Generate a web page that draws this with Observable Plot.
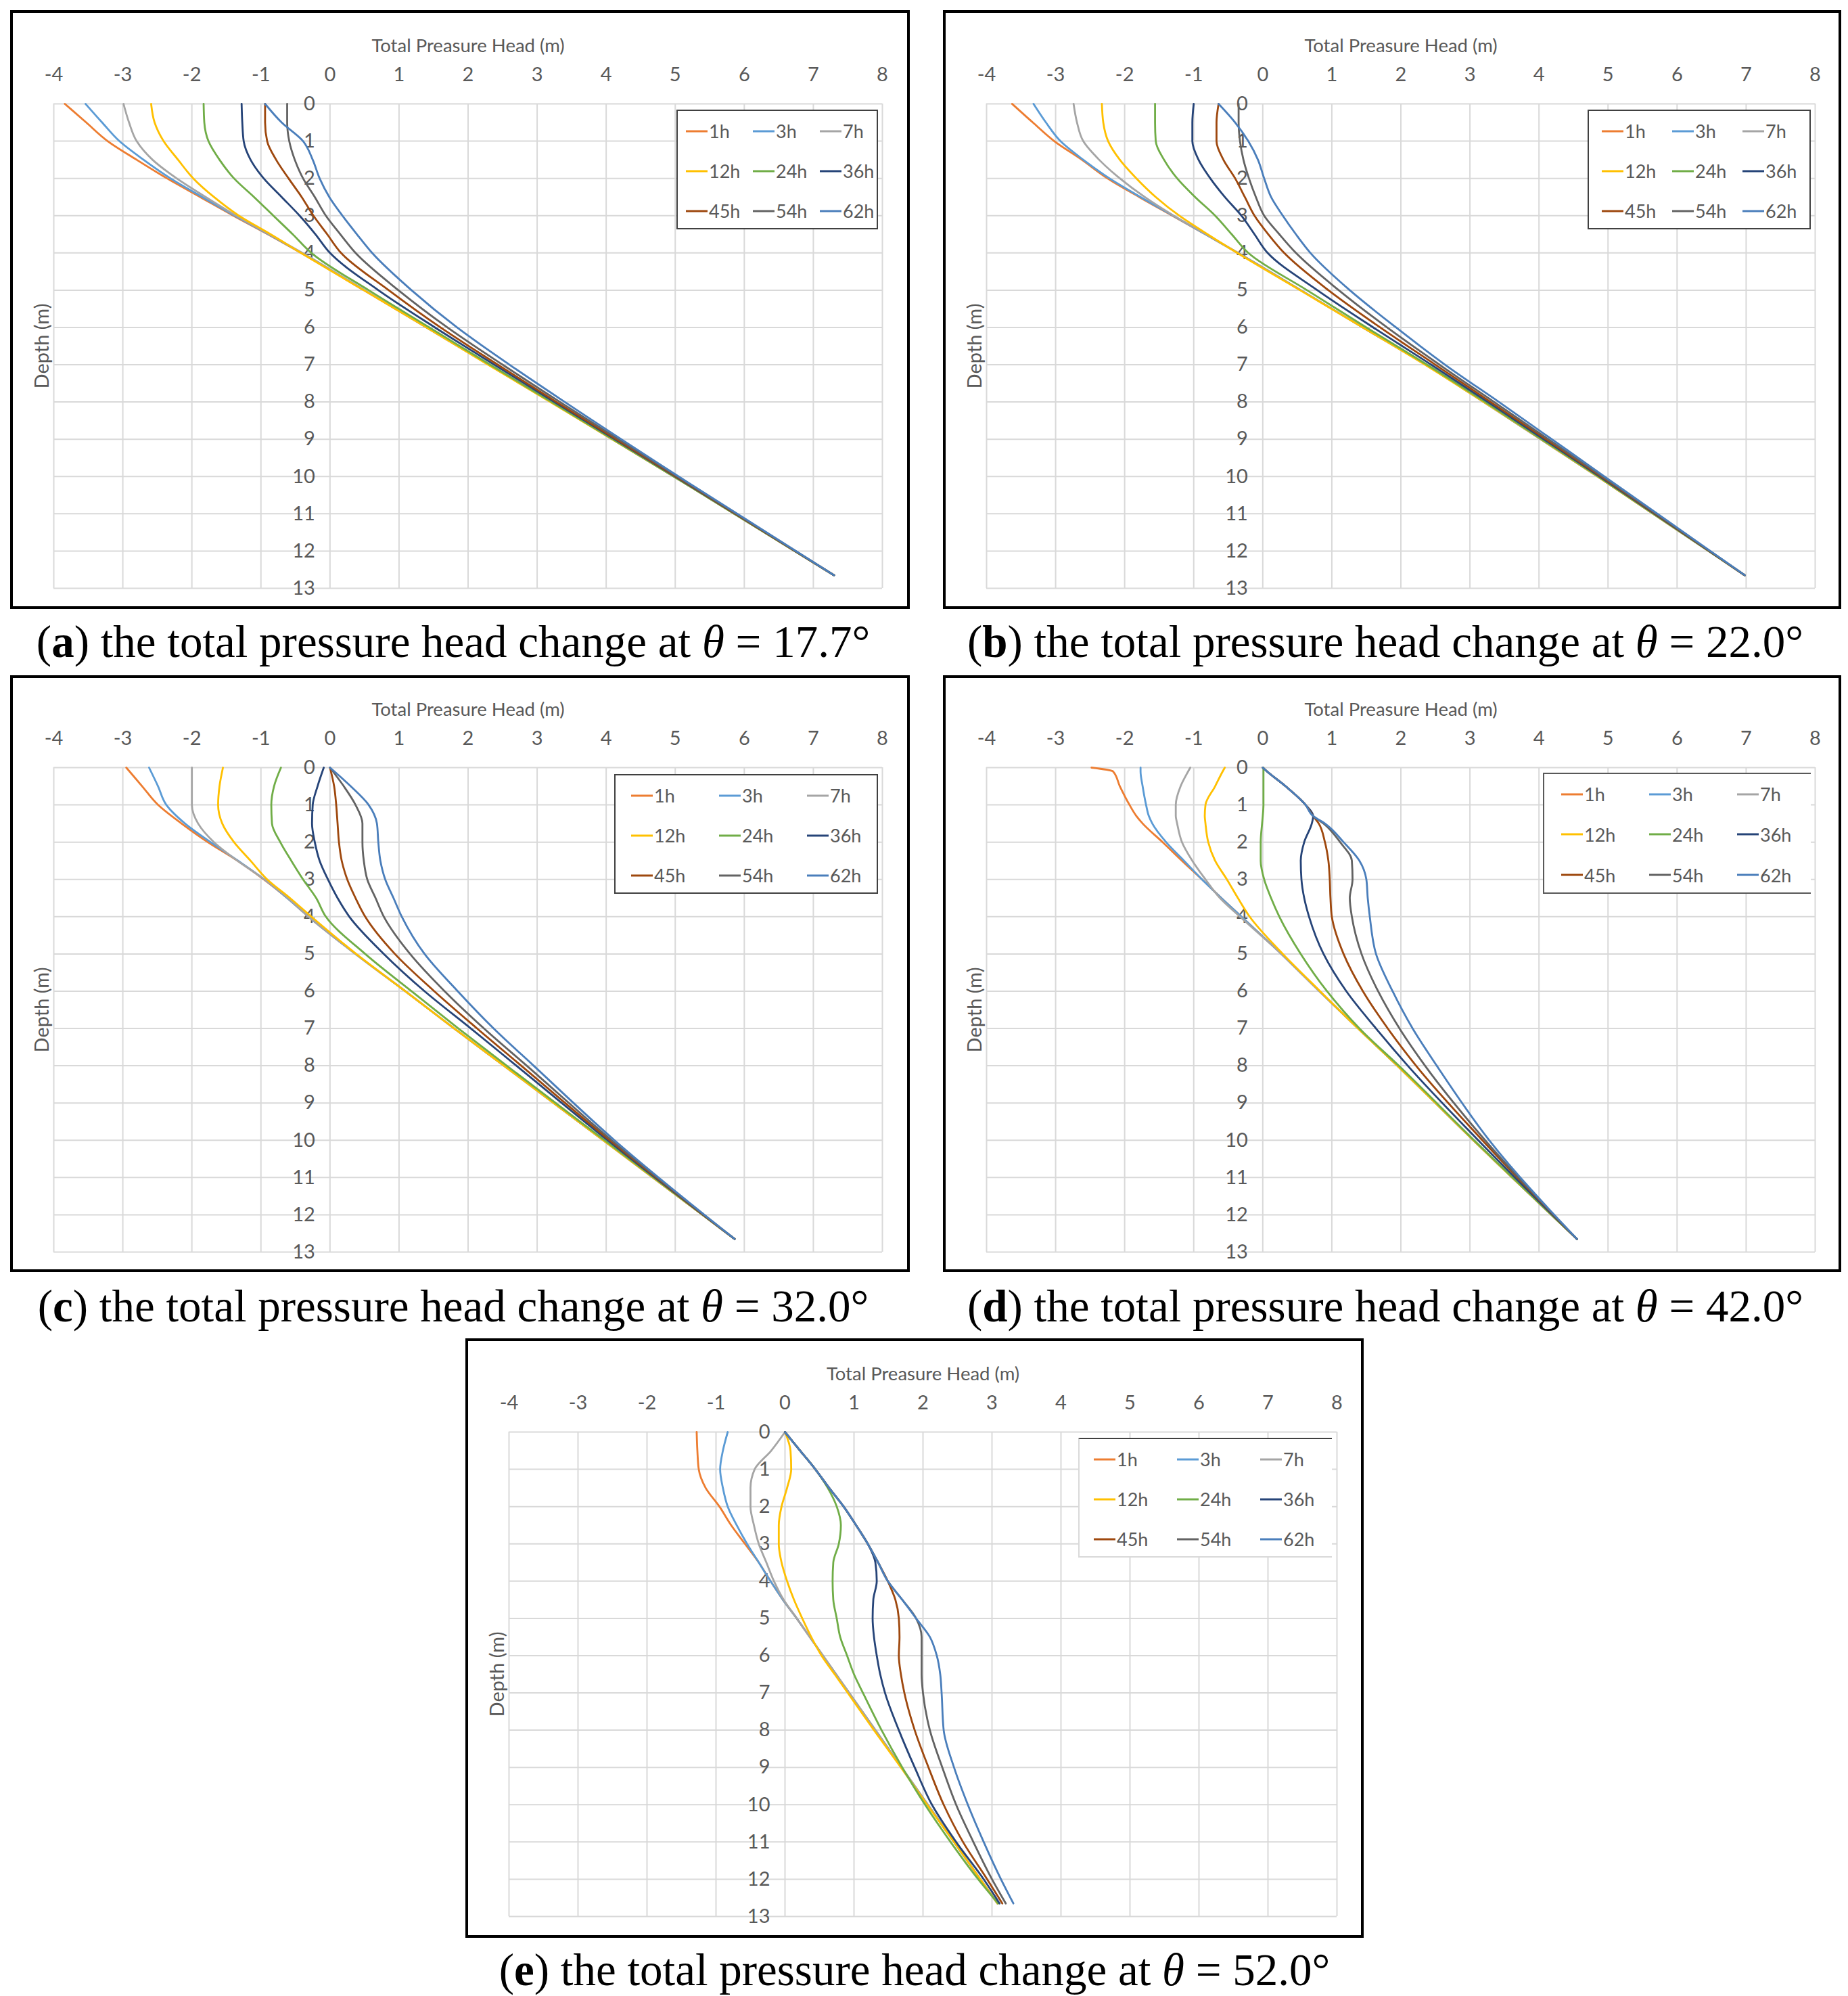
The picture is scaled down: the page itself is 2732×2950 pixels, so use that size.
<!DOCTYPE html>
<html>
<head>
<meta charset="utf-8">
<script src="https://cdn.jsdelivr.net/npm/d3@7"></script>
<script src="https://cdn.jsdelivr.net/npm/@observablehq/plot@0.6"></script>
<style>
  html, body { margin: 0; padding: 0; background: #fff; }
  body { width: 2732px; height: 2950px; position: relative; overflow: hidden; }
  .plotbox { position: absolute; }
  .frame { position: absolute; border: 4px solid #000; box-sizing: border-box; pointer-events: none; }
  .legend { position: absolute; background: #fff; box-sizing: border-box; border: 2px solid #404040;
            font-family: Lato, "Open Sans", sans-serif; font-size: 27px; color: #595959; }
  .legend .item { position: absolute; display: flex; align-items: center; white-space: nowrap; }
  .legend svg { display: block; margin-right: 2px; }
  .cap { position: absolute; font-family: "Liberation Serif", "DejaVu Serif", serif; font-size: 67px;
         color: #000; white-space: nowrap; text-align: center; line-height: 1; }
</style>
</head>
<body>
<script>
// ---------- shared data ----------
const seriesNames  = ["1h", "3h", "7h", "12h", "24h", "36h", "45h", "54h", "62h"];
const seriesColors = ["#ED7D31", "#5B9BD5", "#A5A5A5", "#FFC000", "#70AD47", "#264478", "#9E480E", "#636363", "#4A7EBB"];
const xTicks = [-4, -3, -2, -1, 0, 1, 2, 3, 4, 5, 6, 7, 8];
const yTicks = [0, 1, 2, 3, 4, 5, 6, 7, 8, 9, 10, 11, 12, 13];
const xLabel = "Total Preasure Head (m)";
const yLabel = "Depth (m)";
const captionLetters = ["a", "b", "c", "d", "e"];
const captionAngles  = ["17.7", "22.0", "32.0", "42.0", "52.0"];

// ---------- panel (a) θ = 17.7° ----------
const depthsA = [0, 0.5, 1, 1.5, 2, 2.5, 3, 3.5, 4, 5, 6, 7, 8, 10, 12.65];
const headsA = [
  [-3.84, -3.53, -3.22, -2.80, -2.36, -1.88, -1.40, -0.90, -0.42, 0.49, 1.40, 2.30, 3.20, 4.98, 7.30], // 1h
  [-3.54, -3.30, -3.05, -2.70, -2.31, -1.85, -1.38, -0.89, -0.41, 0.50, 1.40, 2.30, 3.20, 4.98, 7.30], // 3h
  [-2.99, -2.91, -2.80, -2.57, -2.22, -1.80, -1.36, -0.88, -0.40, 0.50, 1.40, 2.30, 3.20, 4.98, 7.30], // 7h
  [-2.59, -2.54, -2.41, -2.20, -1.98, -1.68, -1.32, -0.86, -0.42, 0.49, 1.40, 2.29, 3.19, 4.98, 7.30], // 12h
  [-1.83, -1.82, -1.76, -1.60, -1.39, -1.10, -0.82, -0.54, -0.27, 0.56, 1.44, 2.32, 3.21, 4.98, 7.30], // 24h
  [-1.28, -1.27, -1.25, -1.15, -0.96, -0.70, -0.44, -0.21, 0.00, 0.70, 1.52, 2.38, 3.25, 5.00, 7.30], // 36h
  [-0.94, -0.94, -0.91, -0.78, -0.60, -0.41, -0.24, -0.04, 0.16, 0.85, 1.60, 2.43, 3.28, 5.01, 7.30], // 45h
  [-0.62, -0.62, -0.59, -0.51, -0.39, -0.22, -0.06, 0.15, 0.37, 0.99, 1.70, 2.50, 3.33, 5.03, 7.30],  // 54h
  [-0.94, -0.70, -0.39, -0.25, -0.15, -0.01, 0.18, 0.39, 0.61, 1.18, 1.84, 2.60, 3.40, 5.05, 7.30]    // 62h
];

// ---------- panel (b) θ = 22.0° ----------
const depthsB = [0, 0.5, 1, 1.5, 2, 2.5, 3, 3.5, 4, 5, 6, 7, 8, 10, 12.65];
const headsB = [
  [-3.63, -3.33, -3.02, -2.62, -2.25, -1.79, -1.31, -0.83, -0.36, 0.55, 1.45, 2.36, 3.20, 4.85, 6.98],
  [-3.32, -3.14, -2.93, -2.60, -2.22, -1.77, -1.30, -0.83, -0.36, 0.55, 1.45, 2.36, 3.20, 4.85, 6.98],
  [-2.74, -2.69, -2.60, -2.37, -2.07, -1.71, -1.29, -0.82, -0.36, 0.55, 1.45, 2.36, 3.20, 4.85, 6.98],
  [-2.33, -2.31, -2.24, -2.07, -1.83, -1.55, -1.21, -0.80, -0.37, 0.54, 1.45, 2.35, 3.20, 4.85, 6.98],
  [-1.56, -1.56, -1.55, -1.43, -1.24, -0.98, -0.69, -0.45, -0.21, 0.64, 1.50, 2.38, 3.22, 4.86, 6.98],
  [-1.00, -1.02, -1.02, -0.93, -0.76, -0.55, -0.31, -0.12, 0.07, 0.79, 1.60, 2.44, 3.26, 4.88, 6.98],
  [-0.64, -0.67, -0.67, -0.57, -0.40, -0.26, -0.12, 0.08, 0.31, 0.95, 1.70, 2.50, 3.30, 4.90, 6.98],
  [-0.35, -0.35, -0.33, -0.28, -0.20, -0.10, 0.02, 0.24, 0.48, 1.10, 1.80, 2.56, 3.35, 4.92, 6.98],
  [-0.64, -0.40, -0.21, -0.07, 0.02, 0.12, 0.29, 0.48, 0.69, 1.26, 1.93, 2.64, 3.42, 4.95, 6.98]
];

// ---------- panel (c) θ = 32.0° ----------
const depthsC = [0, 0.5, 1, 1.5, 2, 2.5, 3, 3.5, 4, 5, 6, 7, 8, 10, 12.65];
const headsC = [
  [-2.95, -2.72, -2.49, -2.15, -1.77, -1.34, -0.96, -0.62, -0.31, 0.37, 1.09, 1.80, 2.52, 3.96, 5.86],
  [-2.62, -2.49, -2.37, -2.10, -1.73, -1.33, -0.95, -0.62, -0.31, 0.37, 1.09, 1.80, 2.52, 3.96, 5.86],
  [-2.00, -2.00, -2.00, -1.91, -1.68, -1.34, -0.95, -0.61, -0.31, 0.37, 1.09, 1.80, 2.52, 3.96, 5.86],
  [-1.55, -1.60, -1.62, -1.56, -1.39, -1.15, -0.91, -0.58, -0.27, 0.38, 1.09, 1.80, 2.52, 3.96, 5.86],
  [-0.71, -0.81, -0.85, -0.84, -0.72, -0.56, -0.39, -0.20, -0.06, 0.51, 1.18, 1.86, 2.56, 3.98, 5.86],
  [-0.09, -0.18, -0.25, -0.26, -0.22, -0.15, -0.03, 0.11, 0.28, 0.78, 1.37, 2.04, 2.70, 4.02, 5.86],
  [0.00, 0.06, 0.09, 0.11, 0.13, 0.17, 0.25, 0.37, 0.51, 0.94, 1.51, 2.13, 2.77, 4.05, 5.86],
  [0.00, 0.20, 0.37, 0.47, 0.47, 0.49, 0.54, 0.66, 0.78, 1.16, 1.66, 2.23, 2.85, 4.08, 5.86],
  [0.00, 0.30, 0.56, 0.68, 0.70, 0.73, 0.80, 0.92, 1.04, 1.37, 1.85, 2.37, 2.95, 4.12, 5.86]
];

// ---------- panel (d) θ = 42.0° ----------
const depthsD = [0, 0.1, 0.5, 1, 1.3, 1.5, 2, 2.5, 3, 3.5, 4, 5, 6, 7, 8, 10, 12.65];
const headsD = [
  [-2.48, -2.17, -2.07, -1.93, -1.83, -1.74, -1.45, -1.17, -0.88, -0.60, -0.31, 0.27, 0.82, 1.38, 1.95, 3.05, 4.55],
  [-1.77, -1.77, -1.74, -1.69, -1.65, -1.60, -1.40, -1.14, -0.88, -0.60, -0.31, 0.27, 0.82, 1.38, 1.95, 3.05, 4.55],
  [-1.05, -1.08, -1.19, -1.26, -1.26, -1.24, -1.17, -1.02, -0.83, -0.62, -0.33, 0.27, 0.82, 1.38, 1.95, 3.05, 4.55],
  [-0.55, -0.58, -0.69, -0.83, -0.84, -0.83, -0.79, -0.69, -0.52, -0.36, -0.19, 0.29, 0.83, 1.38, 1.95, 3.05, 4.55],
  [0.01, 0.01, 0.01, 0.01, 0.00, -0.01, -0.03, -0.03, 0.02, 0.12, 0.24, 0.55, 0.93, 1.40, 1.97, 3.06, 4.55],
  [0.00, 0.06, 0.33, 0.62, 0.73, 0.71, 0.60, 0.55, 0.56, 0.60, 0.67, 0.88, 1.21, 1.64, 2.10, 3.12, 4.55],
  [0.00, 0.06, 0.33, 0.62, 0.73, 0.81, 0.90, 0.95, 0.97, 0.98, 1.00, 1.17, 1.45, 1.81, 2.22, 3.18, 4.55],
  [0.00, 0.06, 0.33, 0.62, 0.73, 0.88, 1.12, 1.29, 1.30, 1.26, 1.29, 1.43, 1.67, 1.98, 2.35, 3.22, 4.55],
  [0.00, 0.06, 0.33, 0.62, 0.73, 0.90, 1.17, 1.40, 1.50, 1.52, 1.55, 1.64, 1.88, 2.17, 2.52, 3.28, 4.55]
];

// ---------- panel (e) θ = 52.0° ----------
const depthsE = [0, 0.5, 1, 1.5, 2, 2.5, 3, 3.5, 4, 4.5, 5, 5.5, 6, 6.5, 7, 8, 9, 10, 11, 12, 12.65];
const headsE = [
  [-1.28, -1.27, -1.25, -1.15, -0.95, -0.78, -0.58, -0.38, -0.21, -0.03, 0.17, 0.36, 0.55, 0.74, 0.93, 1.31, 1.69, 2.07, 2.45, 2.83, 3.08],
  [-0.83, -0.90, -0.94, -0.90, -0.83, -0.70, -0.55, -0.38, -0.21, -0.03, 0.17, 0.36, 0.55, 0.74, 0.93, 1.31, 1.69, 2.07, 2.45, 2.83, 3.08],
  [0.00, -0.20, -0.44, -0.50, -0.50, -0.45, -0.38, -0.27, -0.16, -0.02, 0.17, 0.36, 0.55, 0.74, 0.93, 1.31, 1.69, 2.07, 2.45, 2.83, 3.08],
  [0.00, 0.08, 0.09, 0.03, -0.05, -0.09, -0.09, -0.05, 0.03, 0.13, 0.25, 0.38, 0.53, 0.72, 0.91, 1.29, 1.68, 2.06, 2.45, 2.83, 3.08],
  [0.00, 0.22, 0.44, 0.62, 0.75, 0.81, 0.78, 0.70, 0.69, 0.70, 0.75, 0.80, 0.90, 1.00, 1.13, 1.40, 1.70, 2.03, 2.40, 2.80, 3.09],
  [0.00, 0.22, 0.44, 0.64, 0.85, 1.03, 1.20, 1.31, 1.33, 1.28, 1.27, 1.29, 1.33, 1.38, 1.45, 1.65, 1.88, 2.13, 2.48, 2.88, 3.11],
  [0.00, 0.22, 0.44, 0.64, 0.85, 1.03, 1.20, 1.35, 1.49, 1.60, 1.65, 1.66, 1.65, 1.68, 1.73, 1.88, 2.08, 2.30, 2.58, 2.93, 3.15],
  [0.00, 0.22, 0.44, 0.64, 0.85, 1.03, 1.20, 1.35, 1.49, 1.70, 1.90, 1.98, 1.98, 1.98, 2.00, 2.10, 2.28, 2.48, 2.73, 3.00, 3.20],
  [0.00, 0.22, 0.44, 0.64, 0.85, 1.03, 1.20, 1.35, 1.49, 1.70, 1.90, 2.10, 2.20, 2.25, 2.27, 2.30, 2.45, 2.65, 2.88, 3.13, 3.31]
];

// ---------- layout (pixel boxes of the five panels) ----------
const panels = [
  {depths: depthsA, heads: headsA, box: [15, 15, 1330, 885],   m: [138, 41, 31, 64], leg: [1000, 162, 298, 177, 12, 99],  border: "full"},
  {depths: depthsB, heads: headsB, box: [1394, 15, 1328, 885], m: [138, 39, 31, 64], leg: [2347, 162, 330, 177, 19, 104], border: "full"},
  {depths: depthsC, heads: headsC, box: [15, 998, 1330, 882],  m: [136, 41, 30, 64], leg: [908, 1144, 390, 177, 23, 130], border: "full"},
  {depths: depthsD, heads: headsD, box: [1394, 998, 1328, 882], m: [136, 39, 30, 64], leg: [2281, 1142, 396, 179, 25, 130], border: "open"},
  {depths: depthsE, heads: headsE, box: [688, 1978, 1328, 886], m: [138, 40, 32, 64], leg: [1594, 2125, 375, 177, 21, 123], border: "light"}
];
const captionCenters = [[670, 951], [2048, 951], [670, 1933], [2048, 1933], [1352, 2914]];

const textStyle = {fill: "#595959", fontFamily: "Lato"};

function drawPanel(p, idx) {
  const rows = [];
  p.heads.forEach((arr, si) => arr.forEach((h, i) => rows.push({series: seriesNames[si], head: h, depth: p.depths[i]})));
  const [left, top, w, h] = p.box;
  const [mt, mr, mb, ml] = p.m;
  const chart = Plot.plot({
    width: w, height: h,
    marginTop: mt, marginRight: mr, marginBottom: mb, marginLeft: ml,
    x: {domain: [-4, 8], axis: null},
    y: {domain: [0, 13], reverse: true, axis: null},
    color: {domain: seriesNames, range: seriesColors},
    style: {background: "transparent", maxWidth: "none", overflow: "visible", fontFamily: "Lato"},
    marks: [
      Plot.gridX(xTicks, {stroke: "#d9d9d9", strokeOpacity: 1, strokeWidth: 2}),
      Plot.gridY(yTicks, {stroke: "#d9d9d9", strokeOpacity: 1, strokeWidth: 2}),
      Plot.text(yTicks, {x: 0, y: d => d, text: d => String(d), textAnchor: "end", dx: -22, fontSize: 29, ...textStyle}),
      Plot.line(rows, {x: "head", y: "depth", z: "series", stroke: "series", strokeWidth: 2.8, curve: "monotone-y"}),
      Plot.text(xTicks, {x: d => d, text: d => String(d), frameAnchor: "top", dy: -54, fontSize: 29, ...textStyle}),
      Plot.text([xLabel], {frameAnchor: "top", dy: -96, fontSize: 27.5, ...textStyle}),
      Plot.text([yLabel], {frameAnchor: "left", textAnchor: "middle", dx: -17, rotate: -90, fontSize: 29, ...textStyle})
    ]
  });
  const holder = document.createElement("div");
  holder.className = "plotbox";
  holder.style.left = left + "px"; holder.style.top = top + "px";
  holder.style.width = w + "px"; holder.style.height = h + "px";
  holder.appendChild(chart);
  document.body.appendChild(holder);

  const frame = document.createElement("div");
  frame.className = "frame";
  frame.style.left = left + "px"; frame.style.top = top + "px";
  frame.style.width = w + "px"; frame.style.height = h + "px";
  document.body.appendChild(frame);

  // legend
  const [lx, ly, lw, lh, pad, colW] = p.leg;
  const leg = document.createElement("div");
  leg.className = "legend";
  leg.style.left = lx + "px"; leg.style.top = ly + "px";
  leg.style.width = lw + "px"; leg.style.height = lh + "px";
  if (p.border === "open") { leg.style.borderRight = "none"; leg.style.borderColor = "#595959"; }
  if (p.border === "light") { leg.style.border = "2px solid #d9d9d9"; leg.style.borderTop = "2px solid #404040"; leg.style.borderRight = "none"; }
  const rowH = lh / 3;
  seriesNames.forEach((name, i) => {
    const item = document.createElement("div");
    item.className = "item";
    item.style.left = (pad + (i % 3) * colW) + "px";
    item.style.top = (Math.floor(i / 3) * rowH) + "px";
    item.style.height = rowH + "px";
    item.innerHTML = `<svg width="32" height="6"><line x1="0" y1="3" x2="32" y2="3" stroke="${seriesColors[i]}" stroke-width="3"/></svg><span>${name}</span>`;
    leg.appendChild(item);
  });
  document.body.appendChild(leg);

  // caption
  const cap = document.createElement("div");
  cap.className = "cap";
  const [cx, cy] = captionCenters[idx];
  cap.style.left = (cx - 800) + "px"; cap.style.width = "1600px";
  cap.style.top = (cy - 36) + "px";
  cap.innerHTML = `(<b>${captionLetters[idx]}</b>) the total pressure head change at <i>θ</i> = ${captionAngles[idx]}°`;
  document.body.appendChild(cap);
}

panels.forEach(drawPanel);
</script>
</body>
</html>
